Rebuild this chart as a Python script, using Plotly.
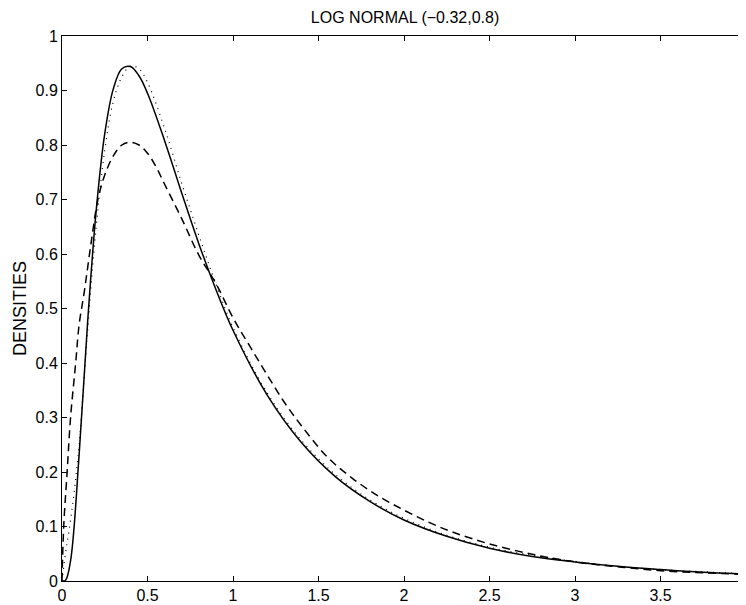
import plotly.graph_objects as go

# Solid curve (true density)
solid_x = [0, 0.02, 0.05, 0.1, 0.15, 0.2, 0.25, 0.3, 0.35, 0.4, 0.45, 0.5, 0.6, 0.7, 0.8, 0.9,
           1.0, 1.2, 1.4, 1.6, 1.8, 2.0, 2.25, 2.5, 2.75, 3.0, 3.25, 3.5, 3.75, 4.0]
solid_y = [0, 0.001, 0.037, 0.231, 0.476, 0.680, 0.821, 0.903, 0.940, 0.944, 0.927, 0.895, 0.808,
           0.712, 0.619, 0.535, 0.460, 0.341, 0.254, 0.191, 0.146, 0.112, 0.082, 0.060, 0.045,
           0.035, 0.027, 0.021, 0.016, 0.013]

# Dotted curve
dot_x = [0, 0.02, 0.04, 0.07, 0.1, 0.15, 0.2, 0.25, 0.3, 0.35, 0.4, 0.45, 0.5, 0.6, 0.7, 0.8, 0.9,
         1.0, 1.2, 1.4, 1.6, 1.8, 2.0, 2.25, 2.5, 2.75, 3.0, 3.25, 3.5, 3.75, 4.0]
dot_y = [0, 0.05, 0.09, 0.16, 0.25, 0.46, 0.65, 0.79, 0.88, 0.925, 0.945, 0.94, 0.915, 0.83, 0.73,
         0.635, 0.545, 0.465, 0.345, 0.258, 0.195, 0.149, 0.115, 0.084, 0.062, 0.047, 0.036,
         0.027, 0.021, 0.017, 0.013]

# Dashed curve
dash_x = [0, 0.01, 0.03, 0.05, 0.08, 0.1, 0.13, 0.17, 0.21, 0.25, 0.3, 0.35, 0.4, 0.45, 0.5, 0.55,
          0.6, 0.7, 0.8, 0.9, 1.0, 1.1, 1.2, 1.3, 1.4, 1.55, 1.7, 1.85, 2.0, 2.15, 2.3, 2.5, 2.75,
          3.0, 3.25, 3.5, 3.75, 4.0]
dash_y = [0.0, 0.10, 0.20, 0.30, 0.40, 0.47, 0.53, 0.62, 0.70, 0.745, 0.78, 0.80, 0.805, 0.80,
          0.785, 0.76, 0.728, 0.665, 0.598, 0.546, 0.483, 0.43, 0.378, 0.328, 0.285, 0.228, 0.188,
          0.156, 0.130, 0.107, 0.088, 0.068, 0.049, 0.035, 0.026, 0.019, 0.015, 0.012]

x_ticks = [0, 0.5, 1, 1.5, 2, 2.5, 3, 3.5, 4]
x_tick_text = ["0", "0.5", "1", "1.5", "2", "2.5", "3", "3.5", "4"]
y_ticks = [0, 0.1, 0.2, 0.3, 0.4, 0.5, 0.6, 0.7, 0.8, 0.9, 1]
y_tick_text = ["0", "0.1", "0.2", "0.3", "0.4", "0.5", "0.6", "0.7", "0.8", "0.9", "1"]

fig = go.Figure()
fig.add_trace(go.Scatter(x=solid_x, y=solid_y, mode="lines",
                         line=dict(color="black", width=1.5, shape="spline"), showlegend=False))
fig.add_trace(go.Scatter(x=dot_x, y=dot_y, mode="lines",
                         line=dict(color="black", width=1.2, dash="1px,5px", shape="spline"),
                         showlegend=False))
fig.add_trace(go.Scatter(x=dash_x, y=dash_y, mode="lines",
                         line=dict(color="black", width=1.5, dash="8px,5px", shape="spline"),
                         showlegend=False))

fam = "Liberation Sans, Arial, sans-serif"
font = dict(family=fam, size=16, color="black")

fig.update_layout(
    width=738, height=597,
    margin=dict(l=54, r=0, t=28, b=24),
    paper_bgcolor="white", plot_bgcolor="white",
    font=font,
    title=dict(text="LOG NORMAL (\u22120.32,0.8)", x=0.538, xanchor="center", y=0.984, yanchor="middle",
               font=dict(family=fam, size=16, color="black")),
    xaxis=dict(range=[0, 4], tickvals=x_ticks, ticktext=x_tick_text, ticks="inside", ticklen=5,
               tickcolor="black", showline=True, linecolor="black", linewidth=1, mirror="ticks",
               showgrid=False, zeroline=False, tickfont=font),
    yaxis=dict(range=[0, 1], tickvals=y_ticks, ticktext=y_tick_text, ticks="inside", ticklen=5,
               tickcolor="black", showline=True, linecolor="black", linewidth=1, mirror="ticks",
               showgrid=False, zeroline=False, tickfont=font,
               title=dict(text="DENSITIES", font=dict(family=fam, size=18, color="black"), standoff=4)),
)

fig.write_html("out.html")
